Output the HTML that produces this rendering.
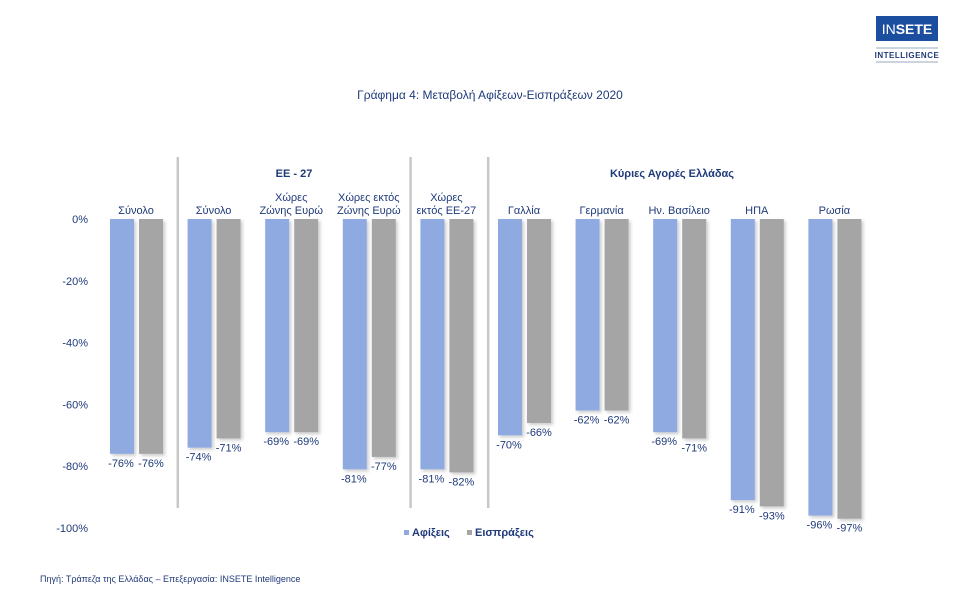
<!DOCTYPE html>
<html><head><meta charset="utf-8"><style>
body{margin:0;background:#fff;font-family:"Liberation Sans","DejaVu Sans",sans-serif;}
svg text{font-family:"Liberation Sans","DejaVu Sans",sans-serif;fill:#1f3a7a;}
</style></head><body>
<svg width="980" height="601" viewBox="0 0 980 601">
<defs><filter id="sh" x="-20%" y="-5%" width="160%" height="115%"><feDropShadow dx="2" dy="2" stdDeviation="1.5" flood-color="#000" flood-opacity="0.2"/></filter></defs>
<g>
<rect x="876" y="16" width="62" height="25" fill="#1c4ea0"/>
<text x="907" y="34" text-anchor="middle" font-size="14" style="fill:#fff"><tspan font-weight="normal">IN</tspan><tspan font-weight="bold">SETE</tspan></text>
<line x1="876" y1="48" x2="938" y2="48" stroke="#9ab" stroke-width="1"/>
<text x="907" y="58" text-anchor="middle" font-size="8" font-weight="bold" letter-spacing="0.5">INTELLIGENCE</text>
<line x1="876" y1="62" x2="938" y2="62" stroke="#9ab" stroke-width="1"/>
</g>
<text x="490" y="99" text-anchor="middle" font-size="12">Γράφημα 4: Μεταβολή Αφίξεων-Εισπράξεων 2020</text>
<g id="axis"></g>
<g id="seps"></g>
<g id="bars"></g>
<g id="cats"></g>
<text x="294" y="177" text-anchor="middle" font-size="11" font-weight="bold">ΕΕ - 27</text>
<text x="672" y="177" text-anchor="middle" font-size="11" font-weight="bold">Κύριες Αγορές Ελλάδας</text>
<g>
<rect x="404" y="530" width="5" height="5" fill="#8eaae0"/>
<text x="412" y="536" font-size="11" font-weight="bold">Αφίξεις</text>
<rect x="467" y="530" width="5" height="5" fill="#a5a5a5"/>
<text x="475" y="536" font-size="11" font-weight="bold">Εισπράξεις</text>
</g>
<text x="40" y="582" font-size="9">Πηγή: Τράπεζα της Ελλάδας – Επεξεργασία: INSETE Intelligence</text>
</svg>
<script>
const categories=[["Σύνολο"],["Σύνολο"],["Χώρες","Ζώνης Ευρώ"],["Χώρες εκτός","Ζώνης Ευρώ"],["Χώρες","εκτός ΕΕ-27"],["Γαλλία"],["Γερμανία"],["Ην. Βασίλειο"],["ΗΠΑ"],["Ρωσία"]];
const arrivals=[-76,-74,-69,-81,-81,-70,-62,-69,-91,-96];
const receipts=[-76,-71,-69,-77,-82,-66,-62,-71,-93,-97];
const yTicks=[0,-20,-40,-60,-80,-100];
const separatorsAfter=[0,3,4];
const NS="http://www.w3.org/2000/svg";
function y(v){return 219+(-v)*3.09;}
function cx(i){return 136+i*77.6;}
function mk(tag,attrs,parent){const e=document.createElementNS(NS,tag);for(const k in attrs)e.setAttribute(k,attrs[k]);parent.appendChild(e);return e;}
const ax=document.getElementById('axis');
yTicks.forEach(t=>{const e=mk('text',{x:88,y:y(t)+4,'text-anchor':'end','font-size':11},ax);e.textContent=t+'%';

});
const sp=document.getElementById('seps');
separatorsAfter.forEach(i=>{const x=(cx(i)+cx(i+1))/2+3;const l=mk('line',{x1:x,x2:x,y1:157,y2:508,stroke:'#c8c8c8','stroke-width':2.5},sp);

});
const bg=document.getElementById('bars'),cg=document.getElementById('cats');
categories.forEach((c,i)=>{
 const x=cx(i);
 const b1=mk('rect',{x:x-26,y:y(0),width:24,height:y(arrivals[i])-y(0),fill:'#8eaae0',filter:'url(#sh)'},bg);
 
 
 const b2=mk('rect',{x:x+3,y:y(0),width:24,height:y(receipts[i])-y(0),fill:'#a5a5a5',filter:'url(#sh)'},bg);
 
 
 const t1=mk('text',{x:x-15,y:y(arrivals[i])+13,'text-anchor':'middle','font-size':11},bg);t1.textContent=arrivals[i]+'%';
 
 
 const t2=mk('text',{x:x+15,y:y(receipts[i])+13,'text-anchor':'middle','font-size':11},bg);t2.textContent=receipts[i]+'%';
 
 
 const ct=mk('text',{x:x,'text-anchor':'middle','font-size':11},cg);
 
 
 c.forEach((ln,j)=>{const ts=mk('tspan',{x:x,y:214-(c.length-1-j)*13},ct);ts.textContent=ln;});
});
</script>
</body></html>
